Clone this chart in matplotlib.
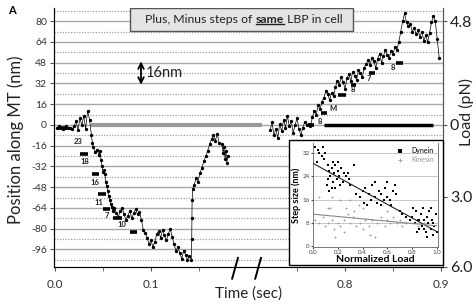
import numpy as np
import matplotlib
matplotlib.use("Agg")
import matplotlib.pyplot as plt
from matplotlib.patches import Rectangle
from matplotlib.transforms import blended_transform_factory

plt.rcParams['font.family'] = ['Lato', 'DejaVu Sans']

# position trace, first part (time in s, position in nm)
t_left = [0.002, 0.004, 0.006, 0.008, 0.010, 0.012, 0.014, 0.016, 0.018, 0.020,
          0.022, 0.024, 0.026, 0.028, 0.030, 0.032, 0.034, 0.036,
          0.038, 0.039, 0.040, 0.042, 0.044, 0.046, 0.047, 0.048, 0.049, 0.050,
          0.051, 0.052, 0.053, 0.054, 0.055, 0.056, 0.057, 0.058, 0.059, 0.060,
          0.062, 0.064, 0.066, 0.068, 0.070, 0.072, 0.074, 0.076, 0.078, 0.080,
          0.082, 0.084, 0.086, 0.088, 0.090,
          0.092, 0.094, 0.096, 0.098, 0.100, 0.102, 0.104, 0.106, 0.108, 0.110,
          0.112, 0.114, 0.116, 0.118, 0.120, 0.122, 0.124, 0.126, 0.128, 0.130,
          0.132, 0.134, 0.136, 0.138, 0.140,
          0.1420, 0.1424, 0.1426, 0.1428, 0.1436, 0.145, 0.147, 0.149, 0.151,
          0.153, 0.155, 0.157, 0.159, 0.161, 0.163, 0.165, 0.167, 0.169, 0.171,
          0.174, 0.175, 0.176, 0.177, 0.178, 0.179, 0.180]
pos_left = [-2, -1, -2, -3, -2, -1, -2, -2, -3, -1,
            3, -4, 5, 0, 7, -3, 11, 4,
            -8, -14, -17, -21, -19, -23, -20, -27, -32, -36,
            -35, -38, -44, -47, -51, -55, -58, -61, -63, -66,
            -64, -68, -71, -66, -64, -69, -73, -70, -66, -72,
            -68, -65, -69, -67, -73,
            -81, -83, -87, -92, -89, -94, -90, -84, -82, -87,
            -81, -85, -89, -84, -80, -86, -92, -97, -94, -99,
            -103, -97, -100, -104, -101,
            -104, -88, -72, -58, -49, -46, -41, -44, -37,
            -33, -28, -24, -20, -15, -11, -8, -12, -7, -14,
            -15, -22, -17, -26, -20, -29, -24]

# position trace, second part
t_right = [0.722, 0.724, 0.726, 0.728, 0.730, 0.732, 0.734, 0.736, 0.738, 0.740,
           0.742, 0.744, 0.746, 0.748, 0.750, 0.752, 0.754, 0.756, 0.758, 0.760,
           0.762, 0.764, 0.766, 0.768, 0.770, 0.772, 0.774, 0.776, 0.778, 0.780,
           0.782, 0.784, 0.786, 0.788, 0.790, 0.792, 0.794, 0.796, 0.798, 0.800,
           0.802, 0.804, 0.806, 0.808, 0.810, 0.812, 0.814, 0.816, 0.818, 0.820,
           0.822, 0.824, 0.826, 0.828, 0.830, 0.832, 0.834, 0.836, 0.838, 0.840,
           0.842, 0.844, 0.846, 0.848, 0.850, 0.852, 0.854, 0.856, 0.858, 0.860,
           0.862, 0.864, 0.866, 0.868, 0.870, 0.872, 0.874, 0.876, 0.878, 0.880,
           0.882, 0.884, 0.886, 0.888, 0.890, 0.892, 0.894, 0.896, 0.898]
pos_right = [-4, 2, -8, -3, -10, 1, -5, 4, -2, 7,
             -1, 3, -6, 0, 5, -3, -8, -2, 2, 0,
             1, -1, 6, 11, 8, 15, 12, 18, 21, 26,
             24, 19, 25, 22, 29, 34, 31, 37, 33, 28,
             36, 39, 34, 41, 38, 35, 42, 40, 37, 44,
             47, 50, 46, 52, 49, 44, 51, 55, 48, 53,
             58, 54, 52, 57, 55, 60, 58, 64, 72, 80,
             86, 79, 76, 78, 72, 75, 70, 73, 68, 72,
             65, 69, 64, 71, 79, 84, 80, 66, 52]

# dwell levels and step sizes
bar_t0 = [0.003, 0.026, 0.0385, 0.045, 0.050, 0.060, 0.078,
          0.7615, 0.775, 0.7927, 0.806, 0.825, 0.853]
bar_t1 = [0.013, 0.034, 0.046, 0.053, 0.057, 0.070, 0.085,
          0.768, 0.781, 0.801, 0.811, 0.831, 0.860]
bar_pos = [-2, -22.4, -37.8, -53.2, -64.8, -71.7, -82.5,
           0, 9, 23, 31, 40, 48]
step_lbl = ['23', '18', '16', '11', '7', '10', '8', 'M', '8', '7', '8']
step_lbl_t = [0.024, 0.031, 0.042, 0.046, 0.054, 0.070, 0.774, 0.787, 0.808, 0.825, 0.850]
step_lbl_pos = [-13, -28.5, -44.7, -60, -70, -77, 3, 13, 27, 35.5, 44]

# load traces (0 pN)
gray_load_t = [0.038, 0.714]
black_load_t = [0.778, 0.892]

x_ticks = [0.0, 0.1, 0.8, 0.9]
x_tick_lbl = ['0.0', '0.1', '0.8', '0.9']
x_minor = [0.05, 0.15, 0.75, 0.85]
y_ticks = list(range(-96, 81, 16))
load_at = [80, 0, -55.5, -109.5]
load_lbl = ['4.8', '0', '3.0', '6.0']

# inset: step size vs normalized load
dyn_load = [0.02, 0.04, 0.05, 0.07, 0.03, 0.08, 0.09, 0.10,
            0.12, 0.13, 0.15, 0.17, 0.18, 0.14, 0.16, 0.19, 0.20, 0.21, 0.22, 0.11,
            0.12, 0.24, 0.25, 0.27, 0.29, 0.30, 0.18, 0.13, 0.23, 0.33, 0.28, 0.20,
            0.16, 0.15,
            0.35, 0.38, 0.40, 0.42, 0.45, 0.47, 0.48, 0.50, 0.52, 0.53, 0.55, 0.57,
            0.58, 0.60, 0.62, 0.63, 0.65, 0.66, 0.44, 0.50, 0.60, 0.67, 0.55, 0.41,
            0.70, 0.72,
            0.80, 0.82, 0.83, 0.85, 0.86, 0.87, 0.88, 0.90, 0.91, 0.92, 0.93, 0.94,
            0.95, 0.96, 0.97, 0.98, 0.99, 1.00, 0.84, 0.89, 0.81, 0.92, 0.95, 0.97,
            0.86, 0.90, 0.78, 0.75]
dyn_step = [34, 33, 32, 31, 29, 34, 30, 32,
            28, 26, 27, 25, 28, 24, 22, 23, 26, 24, 21, 21,
            23, 22, 25, 24, 23, 21, 20, 19, 27, 28, 25, 29,
            29, 20,
            18, 17, 19, 20, 18, 16, 21, 17, 15, 19, 18, 16,
            20, 17, 16, 14, 19, 21, 14, 22, 22, 18, 14, 15,
            12, 11,
            10, 8, 12, 9, 6, 11, 7, 9, 5, 10, 8, 12,
            6, 9, 4, 7, 11, 5, 5, 13, 13, 3, 13, 8,
            9, 6, 9, 10]
kin_load = [0.02, 0.05, 0.08, 0.10, 0.12, 0.14, 0.15, 0.17, 0.18, 0.20, 0.22, 0.25,
            0.27, 0.30, 0.32, 0.35, 0.37, 0.38, 0.40, 0.42, 0.45, 0.46, 0.48, 0.50,
            0.52, 0.55, 0.58, 0.60, 0.62, 0.65, 0.68, 0.70, 0.72, 0.75, 0.78, 0.80,
            0.85, 0.90, 0.95, 0.22, 0.30, 0.12, 0.40, 0.33, 0.25, 0.05, 0.15, 0.28,
            0.60]
kin_step = [9, 8, 10, 7, 8, 13, 9, 6, 3, 8, 7, 9,
            13, 8, 10, 7, 14, 8, 6, 9, 7, 4, 9, 3,
            8, 10, 7, 9, 8, 10, 8, 9, 7, 8, 9, 8,
            7, 8, 9, 16, 16, 13, 13, 12, 5, 17, 17, 11,
            12]
fit_load = [0.0, 1.0]
dyn_fit = [28.5, 5.0]
kin_fit = [11.0, 7.0]


def sq(t):
    # remove the 0.2-0.7 s gap of the broken time axis
    t = np.asarray(t, dtype=float)
    return np.where(t > 0.5, t - 0.498, t)


fig = plt.figure(figsize=(4.76, 3.06), dpi=100)
ax = fig.add_axes([0.1134, 0.1275, 0.8173, 0.8465])
ax.set_xlim(-0.001, 0.404)
ax.set_ylim(-109.5, 90.2)

for v in y_ticks:
    ax.axhline(v, color='#a8a8a8', lw=1.0, zorder=1)
    ax.axhline(v + 8, color='#a0a0a0', lw=0.9, ls=(0, (1, 1.2)), zorder=1)
ax.axhline(y_ticks[0] - 8, color='#a0a0a0', lw=0.9, ls=(0, (1, 1.2)), zorder=1)

ax.plot(sq(gray_load_t), [0, 0], color='#9a9a9a', lw=3, solid_capstyle='butt', zorder=2)
ax.plot(sq(black_load_t), [0, 0], color='k', lw=2.5, solid_capstyle='butt', zorder=2)

ax.plot(sq(t_left), pos_left, color='k', lw=0.5, marker='.', ms=2.8, zorder=3)
ax.plot(sq(t_right), pos_right, color='k', lw=0.5, marker='.', ms=2.8, zorder=3)
ax.hlines(bar_pos, sq(bar_t0), sq(bar_t1), color='k', lw=2.6, zorder=4)
for s, t, p in zip(step_lbl, step_lbl_t, step_lbl_pos):
    ax.text(float(sq(t)), p, s, fontsize=5.5, fontweight='bold', ha='center', va='center',
            color='#222222', zorder=5)

ax.set_xticks(sq(x_ticks))
ax.set_xticklabels(x_tick_lbl, fontsize=8.5, color='#333333')
ax.set_xticks(sq(x_minor), minor=True)
ax.set_yticks(y_ticks)
ax.set_yticklabels([str(v) for v in y_ticks], fontsize=7.5, color='#333333')
ax.tick_params(axis='both', which='both', direction='out', length=3, color='#555555', pad=2)
ax.tick_params(axis='x', pad=6)
ax.spines['top'].set_visible(False)
for side in ['left', 'bottom', 'right']:
    ax.spines[side].set_color('#555555')

ax.set_ylabel('Position along MT (nm)', fontsize=12, color='#222222')
ax.yaxis.set_label_coords(-0.078, 0.49)
ax.set_xlabel('Time (sec)', fontsize=11, color='#222222')
ax.xaxis.set_label_coords(0.499, -0.075)

axr = ax.twinx()
axr.set_ylim(ax.get_ylim())
axr.set_yticks(load_at)
axr.set_yticklabels(load_lbl, fontsize=11.5, color='#222222')
axr.tick_params(axis='y', direction='out', length=3, color='#555555', pad=2)
axr.spines['top'].set_visible(False)
axr.spines['right'].set_color('#555555')
axr.set_ylabel('Load (pN)', fontsize=11.5, color='#222222')
axr.yaxis.set_label_coords(1.042, 0.6)

# break marks on the time axis
bt = blended_transform_factory(ax.transData, ax.transAxes)
for u in [0.1875, 0.2115]:
    ax.plot([u - 0.003, u + 0.003], [-0.045, 0.035], color='k', lw=1.4,
            transform=bt, clip_on=False, zorder=6)

# scale arrow
ax.annotate('', xy=(0.0896, 31), xytext=(0.0896, 49),
            arrowprops=dict(arrowstyle='<->', color='k', lw=1.3, shrinkA=0, shrinkB=0))
ax.text(0.095, 40, '16nm', fontsize=10.5, va='center', ha='left', color='#222222')

# title box
ax.add_patch(Rectangle((0.195, 0.912), 0.574, 0.088, transform=ax.transAxes,
                       facecolor='#e4e4e4', edgecolor='#555555', lw=1.0, zorder=7))
t1 = ax.text(0.235, 0.956, 'Plus, Minus steps of ', transform=ax.transAxes, fontsize=8.8,
             va='center', ha='left', color='#222222', zorder=8)
t2 = ax.annotate('same', xy=(1, 0), xycoords=t1, va='bottom', ha='left', fontsize=8.8,
                 fontweight='bold', color='#222222', zorder=8)
t3 = ax.annotate(' LBP in cell', xy=(1, 0), xycoords=t2, va='bottom', ha='left', fontsize=8.8,
                 color='#222222', zorder=8)

fig.text(0.016, 0.965, 'A', fontsize=8, fontweight='bold', va='center')

# inset
fig.add_artist(Rectangle((0.607, 0.134), 0.3235, 0.4085, transform=fig.transFigure,
                         facecolor='white', edgecolor='k', lw=1.0, zorder=1.5))
ins = fig.add_axes([0.6576, 0.1928, 0.2626, 0.3399], zorder=2)
ins.set_xlim(0, 1.01)
ins.set_ylim(-0.3, 35.5)
ins.set_yticks([0, 8, 16, 24, 32])
ins.set_xticks([0.0, 0.2, 0.4, 0.6, 0.8, 1.0])
ins.set_xticklabels(['0.0', '0.2', '0.4', '0.6', '0.8', '1.0'])
ins.tick_params(labelsize=4.5, length=1.5, pad=1, colors='#444444')
for v in [8, 16, 24, 32]:
    ins.axhline(v, color='#c8c8c8', lw=0.7, zorder=0)
ins.scatter(kin_load, kin_step, s=4, marker='+', color='#999999', lw=0.6, label='Kinesin', zorder=2)
ins.scatter(dyn_load, dyn_step, s=4.5, marker='s', color='k', lw=0, label='Dynein', zorder=3)
ins.plot(fit_load, dyn_fit, color='#222222', lw=0.8, zorder=4)
ins.plot(fit_load, kin_fit, color='#888888', lw=0.8, zorder=4)
h, l = ins.get_legend_handles_labels()
leg = ins.legend(h[::-1], l[::-1], loc='upper right', fontsize=5, frameon=False,
                 handletextpad=0.6, borderaxespad=0.2, labelspacing=0.3, markerscale=1.2)
leg.get_texts()[1].set_color('#999999')
ins.set_ylabel('Step size (nm)', fontsize=6.5, fontweight='bold', labelpad=1)
ins.set_xlabel('Normalized Load', fontsize=7.5, fontweight='bold', labelpad=0)
ins.spines['top'].set_visible(False)
for side in ['left', 'bottom', 'right']:
    ins.spines[side].set_color('#777777')
    ins.spines[side].set_linewidth(0.7)

# underline the bold word in the title
fig.canvas.draw()
bb = t2.get_window_extent()
fig.add_artist(plt.Line2D([bb.x0 / fig.dpi / 4.76, bb.x1 / fig.dpi / 4.76],
                          [(bb.y0 + 1) / fig.dpi / 3.06] * 2, transform=fig.transFigure,
                          color='#222222', lw=1.0, zorder=9))

fig.savefig('out.png', dpi=100)
